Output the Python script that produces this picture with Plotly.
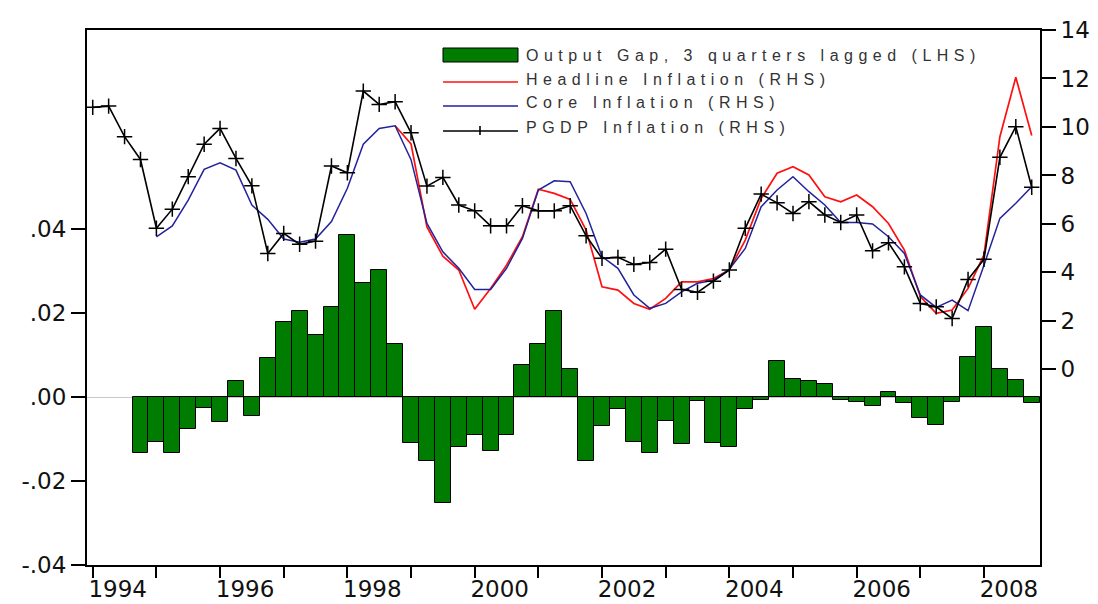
import plotly.graph_objects as go

# ---------------------------------------------------------------------------
# Data (quarterly, 1994Q1 - 2008Q4)
# ---------------------------------------------------------------------------
years = list(range(1994, 2009))
quarters = [f"{y}Q{q}" for y in years for q in range(1, 5)]

# Output gap, 3 quarters lagged (LHS) - starts 1994Q4
gap_quarters = quarters[3:]
output_gap = [
    -0.0133,
    -0.0108, -0.0133, -0.0077, -0.0027,
    -0.0060, 0.0039, -0.0046, 0.0093,
    0.0178, 0.0206, 0.0149, 0.0216,
    0.0386, 0.0273, 0.0303, 0.0127,
    -0.0110, -0.0151, -0.0252, -0.0119,
    -0.0089, -0.0128, -0.0089, 0.0076,
    0.0127, 0.0205, 0.0067, -0.0151,
    -0.0069, -0.0029, -0.0106, -0.0132,
    -0.0057, -0.0112, -0.0010, -0.0110,
    -0.0118, -0.0029, -0.0006, 0.0085,
    0.0043, 0.0038, 0.0032, -0.0006,
    -0.0011, -0.0020, 0.0013, -0.0013,
    -0.0050, -0.0066, -0.0012, 0.0095,
    0.0168, 0.0067, 0.0040, -0.0013,
]

# Headline inflation (RHS) - starts 1998Q4
headline_quarters = quarters[19:]
headline_inflation = [
    10.05,
    9.30, 5.88, 4.67, 4.10,
    2.48, 3.34, 4.30, 5.47,
    7.43, 7.26, 7.01, 5.75,
    3.41, 3.27, 2.72, 2.48,
    2.93, 3.61, 3.61, 3.75,
    4.10, 5.33, 7.05, 8.09,
    8.36, 8.02, 7.12, 6.91,
    7.19, 6.71, 6.02, 4.92,
    3.00, 2.31, 2.45, 3.34,
    4.72, 9.60, 12.05, 9.65,
]

# Core inflation (RHS) - starts 1995Q1
core_quarters = quarters[4:]
core_inflation = [
    5.47, 5.92, 6.98, 8.25,
    8.52, 8.22, 6.78, 6.19,
    5.38, 5.24, 5.38, 6.10,
    7.47, 9.29, 9.94, 10.05,
    8.65, 6.02, 4.85, 4.17,
    3.30, 3.30, 4.17, 5.40,
    7.40, 7.78, 7.74, 6.43,
    4.65, 4.17, 3.07, 2.52,
    2.72, 3.20, 3.55, 3.68,
    4.13, 4.99, 6.71, 7.40,
    7.95, 7.33, 6.78, 6.06,
    6.06, 6.00, 5.47, 4.78,
    3.07, 2.56, 2.86, 2.42,
    4.30, 6.23, 6.85, 7.53,
]

# PGDP inflation (RHS) - full sample
pgdp_inflation = [
    10.81, 10.86, 9.60, 8.66,
    5.82, 6.61, 7.95, 9.29,
    9.94, 8.70, 7.57, 4.78,
    5.61, 5.16, 5.29, 8.39,
    8.11, 11.48, 10.93, 11.04,
    9.76, 7.56, 7.92, 6.78,
    6.54, 5.92, 5.92, 6.75,
    6.54, 6.54, 6.75, 5.51,
    4.58, 4.62, 4.33, 4.41,
    4.96, 3.30, 3.18, 3.64,
    4.10, 5.82, 7.23, 6.87,
    6.43, 6.92, 6.37, 6.06,
    6.37, 4.89, 5.22, 4.23,
    2.72, 2.58, 2.10, 3.71,
    4.54, 8.75, 10.01, 7.51,
]

# Axis ticks
year_labels = ["1994", "1996", "1998", "2000", "2002", "2004", "2006", "2008"]
lhs_ticks = [-0.04, -0.02, 0.0, 0.02, 0.04]
lhs_labels = ["-.04", "-.02", ".00", ".02", ".04"]
rhs_ticks = [0, 2, 4, 6, 8, 10, 12, 14]

series_names = [
    "Output Gap, 3 quarters lagged (LHS)",
    "Headline Inflation (RHS)",
    "Core Inflation (RHS)",
    "PGDP Inflation (RHS)",
]


def qnum(label):
    """'1998Q3' -> 1998.5 (quarter positioned at its start)."""
    y, q = label.split("Q")
    return int(y) + (int(q) - 1) / 4


GREEN = "#007d00"
RED = "#ff1010"
BLUE = "#22229c"
BLACK = "#000000"
TICK_FONT = dict(family="DejaVu Sans", size=23, color="#111111")

fig = go.Figure()

fig.add_trace(go.Bar(
    x=[qnum(q) for q in gap_quarters], y=output_gap, width=0.25,
    name=series_names[0], yaxis="y",
    marker=dict(color=GREEN, line=dict(color="#000000", width=1)),
))
fig.add_trace(go.Scatter(
    x=[qnum(q) for q in headline_quarters], y=headline_inflation,
    mode="lines", name=series_names[1], yaxis="y2",
    line=dict(color=RED, width=1.7),
))
fig.add_trace(go.Scatter(
    x=[qnum(q) for q in core_quarters], y=core_inflation,
    mode="lines", name=series_names[2], yaxis="y2",
    line=dict(color=BLUE, width=1.5),
))
fig.add_trace(go.Scatter(
    x=[qnum(q) for q in quarters], y=pgdp_inflation,
    mode="lines+markers", name=series_names[3], yaxis="y2",
    line=dict(color=BLACK, width=1.6),
    marker=dict(symbol="cross-thin", size=11, line=dict(color=BLACK, width=1.5)),
))

# Plot-area geometry in pixels (used to place the hand-drawn key)
W, H = 1098, 604
ML, MR, MT, MB = 87, 58, 30, 39
PW, PH = W - ML - MR, H - MT - MB


def px(xp):
    return (xp - ML) / PW


def py(yp):
    return (H - MB - yp) / PH


shapes = []
annotations = []
key_x0, key_x1, key_text_x = 443, 518, 524
row_y = [55, 79, 103, 128]

# Key: bar swatch
shapes.append(dict(type="rect", xref="paper", yref="paper",
                   x0=px(key_x0), x1=px(key_x1), y0=py(row_y[0] + 7), y1=py(row_y[0] - 7),
                   fillcolor=GREEN, line=dict(color="#000000", width=1)))
# Key: line samples
for yy, col in zip(row_y[1:], [RED, BLUE, BLACK]):
    shapes.append(dict(type="line", xref="paper", yref="paper",
                       x0=px(key_x0), x1=px(key_x1), y0=py(yy + 3), y1=py(yy + 3),
                       line=dict(color=col, width=1.7)))
# Key: cross marker on the PGDP sample
shapes.append(dict(type="line", xref="paper", yref="paper",
                   x0=px(480), x1=px(480), y0=py(row_y[3] - 2), y1=py(row_y[3] + 7),
                   line=dict(color=BLACK, width=1.6)))

for yy, name in zip(row_y, series_names):
    annotations.append(dict(
        xref="paper", yref="paper", x=px(key_text_x), y=py(yy),
        xanchor="left", yanchor="middle", showarrow=False,
        text=f'<span style="letter-spacing:5.5px">{name}</span>',
        font=dict(family="Liberation Sans, Arial", size=16, color="#333333"),
    ))

axis_line = dict(showline=True, linecolor="#000000", linewidth=2, automargin=False,
                 showgrid=False, ticks="outside", tickcolor="#000000", tickwidth=2)

fig.update_layout(
    width=W, height=H,
    margin=dict(l=ML, r=MR, t=MT, b=MB, pad=0, autoexpand=False),
    paper_bgcolor="white", plot_bgcolor="white",
    showlegend=False, bargap=0,
    shapes=shapes, annotations=annotations,
    xaxis=dict(
        **axis_line, mirror=True, zeroline=False,
        range=[1993.91, 2008.88],
        tickvals=[int(y) for y in year_labels], ticktext=year_labels,
        ticklen=11, ticklabelshift=25, ticklabelstandoff=-9, tickfont=TICK_FONT,
        minor=dict(tickvals=years, ticks="outside", ticklen=11,
                   tickwidth=2, tickcolor="#000000", showgrid=False),
    ),
    yaxis=dict(
        **axis_line, range=[-0.04, 0.0875],
        tickvals=lhs_ticks, ticktext=lhs_labels, ticklen=14,
        tickfont=TICK_FONT,
        zeroline=True, zerolinecolor="#c8c8c8", zerolinewidth=1,
    ),
    yaxis2=dict(
        **axis_line, overlaying="y", side="right", range=[-8.07, 14],
        tickvals=rhs_ticks, ticklen=14, tickfont=TICK_FONT, zeroline=False,
    ),
)

fig.write_html("out.html")
